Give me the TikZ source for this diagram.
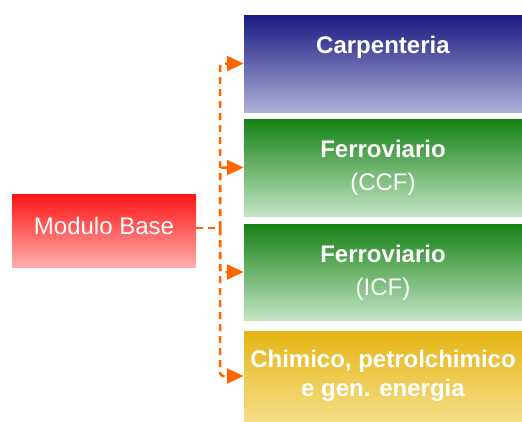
\documentclass[tikz,border=0pt]{standalone}
\usepackage{fontspec}
\setmainfont{Liberation Sans}
\usetikzlibrary{arrows.meta}
\definecolor{linkorange}{RGB}{255,102,0}
\definecolor{redtop}{RGB}{255,20,20}
\definecolor{redbot}{RGB}{255,175,175}
\definecolor{navytop}{RGB}{25,25,130}
\definecolor{navybot}{RGB}{175,175,215}
\definecolor{greentop}{RGB}{20,130,20}
\definecolor{greenbot}{RGB}{195,228,195}
\definecolor{goldtop}{RGB}{230,180,20}
\definecolor{goldbot}{RGB}{245,222,135}

\begin{document}
\begin{tikzpicture}[x=1pt,y=-1pt,
  box/.style={inner sep=0, minimum width=278pt},
  lbl/.style={text=white, font=\fontsize{24}{29}\selectfont, align=center, anchor=base, inner sep=0},
  link/.style={draw=linkorange, line width=2.5pt, dash pattern=on 7pt off 5pt, rounded corners=3pt,
    -{Triangle[length=17pt,width=15pt]}}]
	\useasboundingbox (0,0) rectangle (522,421);
	% source box
	\node[inner sep=0, minimum width=184pt, minimum height=73pt, top color=redtop, bottom color=redbot] (modulo) at (104,230.5){};
	\node[lbl] (modulolbl) at (104,234){Modulo Base};
	% target boxes
	\node[box, minimum height=97pt, top color=navytop, bottom color=navybot] (carp) at (383,63.5){};
	\node[box, minimum height=97pt, top color=greentop, bottom color=greenbot] (ccf) at (383,167.5){};
	\node[box, minimum height=96pt, top color=greentop, bottom color=greenbot] (icf) at (383,272){};
	\node[box, minimum height=90pt, top color=goldtop, bottom color=goldbot] (chim) at (383,376){};
	% labels (base = last line)
	\node[lbl] (carplbl) at (383,53){\textbf{Carpenteria}};
	\node[lbl] (ccflbl) at (383,190){\textbf{Ferroviario}\\[4pt](CCF)};
	\node[lbl] (icflbl) at (383,295){\textbf{Ferroviario}\\[4pt](ICF)};
	\node[lbl] (chimlbl) at (383,396){\textbf{Chimico, petrolchimico}\\\textbf{e gen. energia}};
	% connectors
	\coordinate (split) at ([xshift=24pt,yshift=2.5pt]modulo.east);
	\draw[link, -] ([yshift=2.5pt]modulo.east) -- (split);
	\draw[link] (split) |- (carp.west);
	\draw[link] (split) |- (ccf.west);
	\draw[link] (split) |- (icf.west);
	\draw[link] (split) |- (chim.west);
\end{tikzpicture}
\end{document}
